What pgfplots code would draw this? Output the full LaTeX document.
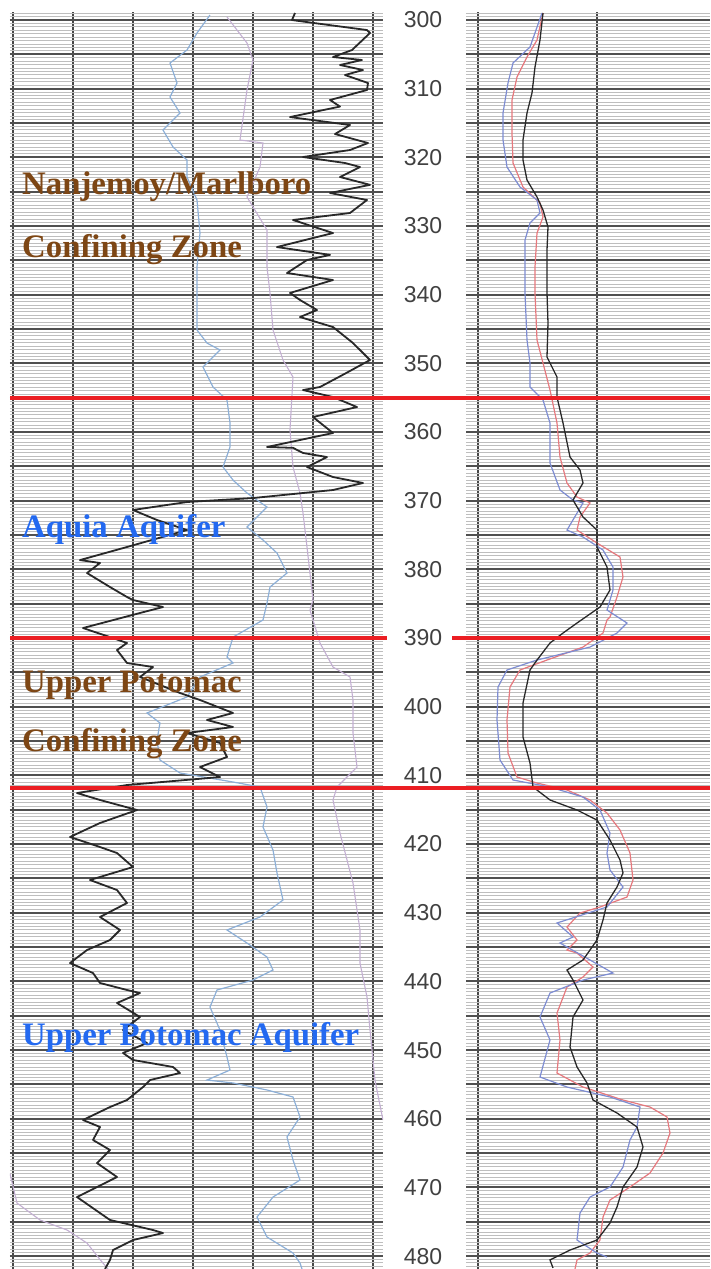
\documentclass[border=0pt]{standalone}
\usepackage{pgfplots}
\pgfplotsset{compat=1.18}
\usepackage{fontspec}
\setmainfont{Liberation Serif}
\newfontfamily\depthfont{Liberation Sans}
\definecolor{brownlab}{RGB}{125,70,20}
\definecolor{bluelab}{RGB}{35,105,240}
\definecolor{redline}{RGB}{235,30,35}
\definecolor{gmaj}{RGB}{80,80,80}
\definecolor{gvert}{RGB}{70,70,70}
\definecolor{gmin}{RGB}{190,190,190}
\definecolor{lblue}{RGB}{140,175,215}
\definecolor{llav}{RGB}{195,175,210}
\definecolor{rred}{RGB}{230,120,125}
\definecolor{rblue}{RGB}{125,140,210}
\definecolor{cblack}{RGB}{40,40,40}
\definecolor{depthgray}{RGB}{65,65,65}
\pgfplotsset{track/.style={
  scale only axis, height=1257pt, ymin=298.835, ymax=481.88, y dir=reverse,
  axis line style={draw=none}, tick style={draw=none},
  xticklabels={}, yticklabels={},
  ytick={300,305,...,480}, minor ytick={299,299.5,...,481.5},
  grid=both,
  major x grid style={gvert, line width=1.3pt},
  major y grid style={gmaj, line width=1.9pt},
  minor y grid style={gmin, line width=1pt},
  clip=true,
}}
\begin{document}
\begin{tikzpicture}
\useasboundingbox (0,0) rectangle (710pt,1269pt);
% ---------------- left track ----------------
\begin{axis}[track, at={(10pt,0pt)}, anchor=south west, width=373pt,
  xmin=10, xmax=383, xtick={13,73,133,193,253,313,373}]
% lavender curve
\addplot[llav, line width=1.1pt] table {
x d
227 299.56
247 303.35
253 305.82
247 310.19
240 317.47
263 317.91
260 321.41
247 325.77
267 330.58
267 335.97
270 339.75
273 345.14
283 349.51
293 351.99
290 359.70
293 365.09
300 368.88
303 371.79
307 376.74
313 384.46
310 385.92
320 390.72
333 394.22
350 395.67
353 399.02
353 403.83
357 408.78
337 411.69
333 413.58
340 418.39
353 425.67
360 432.51
360 437.32
367 442.27
370 447.08
375 454.40
383 460.20
};
\addplot[llav, line width=1.1pt] table {
x d
10 468.00
17 472.27
40 474.74
67 476.20
87 478.10
100 480.50
108 481.88
};
% light blue curve
\addplot[lblue, line width=1.2pt] table {
x d
210 299.27
197 301.89
187 304.37
170 306.26
177 309.17
170 311.21
180 313.54
163 316.02
173 318.49
187 320.39
187 322.86
197 326.21
200 331.02
197 335.97
197 339.75
197 345.14
207 347.04
220 348.05
203 350.53
213 353.44
227 355.34
230 358.68
230 362.18
223 365.09
233 366.99
247 368.88
267 370.92
247 373.83
263 375.72
277 377.62
287 380.53
270 382.57
267 384.90
263 387.37
233 389.86
227 392.76
233 393.63
200 395.67
187 398.58
147 400.91
160 402.37
157 404.85
160 407.76
180 409.65
233 410.96
260 411.69
267 414.60
263 417.52
273 420.87
277 424.21
283 428.15
260 430.62
227 432.51
247 434.41
267 436.45
273 438.34
253 439.80
217 441.25
210 443.73
220 447.08
227 451.01
230 452.90
207 454.36
233 454.79
267 455.81
293 456.83
300 459.74
287 462.65
293 466.01
300 468.92
273 471.40
257 474.31
267 477.22
293 479.55
300 481.01
302 481.88
};
% black curve
\addplot[cblack, line width=1.8pt, line join=round] table {
x d
295 298.98
292 300.00
312 300.40
367 301.46
370 301.89
352 304.37
333 305.39
362 305.82
340 306.55
363 307.28
345 308.01
368 309.17
367 310.19
330 311.65
340 312.60
290 314.13
350 315.29
335 316.60
368 317.91
350 318.93
303 319.95
345 320.82
360 321.41
340 322.86
370 324.00
330 325.19
367 326.21
350 328.10
293 329.12
333 331.02
277 333.06
330 334.20
307 334.95
287 336.84
333 337.86
290 339.75
300 340.77
317 342.23
300 343.25
333 344.71
353 347.04
367 349.07
370 349.51
345 351.50
320 353.44
303 353.88
333 354.90
357 356.36
313 357.81
333 360.14
267 362.18
293 362.30
303 363.05
327 363.64
307 365.09
333 366.55
363 367.42
333 368.44
253 369.61
187 370.19
133 371.35
157 372.81
187 374.27
127 376.74
80 378.64
100 379.07
87 380.53
110 382.57
127 384.02
133 384.46
163 385.48
140 386.35
83 388.54
110 389.86
127 390.72
117 391.74
127 393.63
153 394.22
140 395.67
180 398.00
200 399.02
233 400.91
207 401.93
233 402.95
187 403.83
220 405.28
227 407.32
200 408.78
220 410.24
127 411.40
77 412.57
100 413.58
137 415.04
100 416.93
70 418.97
100 420.43
117 421.30
133 423.34
90 425.23
117 426.69
127 428.58
100 430.62
120 432.51
110 433.97
87 435.43
70 437.32
93 438.78
100 440.23
127 441.25
140 441.69
117 443.14
140 445.18
123 447.08
147 448.97
123 450.42
133 451.44
173 452.46
180 453.34
150 454.36
143 455.38
127 457.27
110 458.29
83 460.18
100 461.20
93 463.09
110 464.55
97 466.45
117 468.48
77 471.40
100 473.73
110 474.74
153 476.20
163 476.64
133 477.66
113 479.12
110 480.56
105 481.88
};
\end{axis}
% ---------------- right track ----------------
\begin{axis}[track, at={(466pt,0pt)}, anchor=south west, width=244pt,
  xmin=466, xmax=710, xtick={478,597}]
\addplot[rred, line width=1.2pt] table {
x d
543 298.98
537 302.91
527 305.39
517 308.30
512 311.65
512 316.46
513 320.82
523 324.32
540 326.65
543 328.69
537 331.02
535 335.97
535 339.75
537 346.60
543 349.95
550 353.88
557 358.68
560 363.64
567 367.42
577 369.46
590 370.33
580 372.37
577 374.27
597 376.16
620 378.20
623 381.11
617 384.02
610 386.94
607 387.37
603 389.27
583 391.31
547 393.20
520 394.65
510 397.13
507 401.93
508 406.74
517 410.24
537 411.11
567 412.13
590 413.58
607 415.48
620 417.95
630 421.30
633 425.23
627 427.71
600 429.16
580 430.04
567 432.08
577 433.97
567 435.43
577 435.87
593 437.90
583 439.36
567 440.82
557 444.60
560 448.53
557 453.34
583 455.38
623 457.27
650 458.29
667 459.74
670 462.07
663 464.99
650 467.90
630 469.94
610 471.83
603 474.31
600 477.66
590 479.55
577 480.56
575 481.88
};
\addplot[rblue, line width=1.2pt] table {
x d
542 298.98
530 303.93
513 306.26
508 309.17
503 313.54
503 317.47
507 321.41
520 324.32
537 326.21
540 328.10
530 329.56
525 332.04
525 339.75
527 346.60
530 349.95
530 353.44
543 355.34
550 358.68
550 364.51
560 368.44
573 369.90
583 370.33
567 374.27
583 375.29
603 377.18
613 379.66
613 383.00
607 385.92
627 387.81
617 389.27
590 391.31
537 393.20
507 394.65
498 397.13
497 401.93
500 407.76
513 410.67
550 411.69
583 413.15
600 415.04
610 418.39
607 421.30
610 423.78
623 426.25
607 429.16
557 431.49
573 433.53
560 434.41
590 436.88
613 438.78
583 439.80
550 441.69
540 445.18
550 448.53
540 453.92
567 455.38
610 456.83
640 458.29
637 461.20
630 463.09
623 467.03
610 469.94
590 471.40
580 473.73
577 477.66
597 479.55
607 480.13
};
\addplot[cblack, line width=1.3pt] table {
x d
543 298.98
540 302.91
535 306.84
532 310.63
527 313.54
523 317.47
523 320.39
527 323.30
537 325.77
543 327.67
548 330.14
547 333.49
547 339.75
548 344.12
547 349.07
557 351.99
557 354.90
563 358.68
570 363.64
580 365.53
583 367.42
573 369.90
583 372.37
597 374.27
597 376.74
607 379.66
610 383.00
600 385.48
577 387.81
563 389.27
550 390.72
537 393.20
530 394.65
523 399.46
523 404.41
530 408.20
533 411.69
550 413.58
577 415.04
597 416.50
610 419.41
620 422.32
623 424.21
617 426.25
607 428.58
603 431.06
597 433.97
583 436.88
567 438.34
573 439.80
583 442.71
573 445.18
570 449.55
577 452.46
587 454.79
593 457.27
617 459.16
637 461.20
643 464.11
637 467.03
623 469.94
617 472.85
610 475.18
597 477.66
570 479.12
550 480.56
553 481.73
};
\end{axis}
% ---------------- overlay: formation tops, labels, depths ----------------
\begin{axis}[scale only axis, at={(0pt,0pt)}, anchor=south west,
  width=710pt, height=1257pt, xmin=0, xmax=710,
  ymin=298.835, ymax=481.88, y dir=reverse, hide axis, clip=false]
\addplot[redline, line width=3.8pt] coordinates {(10,355) (710,355)};
\addplot[redline, line width=3.8pt] coordinates {(10,390) (387,390)};
\addplot[redline, line width=3.8pt] coordinates {(452,390) (710,390)};
\addplot[redline, line width=3.8pt] coordinates {(10,411.8) (710,411.8)};
\pgfplotsinvokeforeach{300,310,...,480}{
  \node[font=\depthfont\fontsize{23}{25}\selectfont, text=depthgray, inner sep=0pt]
    at (axis cs:423,#1) {#1};
}
\tikzset{lab/.style={anchor=base west, inner sep=0pt,
  font=\fontsize{32.8}{36}\selectfont\bfseries}}
\node[lab, text=brownlab] at (axis cs:22,325.48) {Nanjemoy/Marlboro};
\node[lab, text=brownlab] at (axis cs:22,334.51) {Confining Zone};
\node[lab, text=bluelab] at (axis cs:22,375.29) {Aquia Aquifer};
\node[lab, text=brownlab] at (axis cs:22,397.86) {Upper Potomac};
\node[lab, text=brownlab] at (axis cs:22,406.59) {Confining Zone};
\node[lab, text=bluelab] at (axis cs:22,449.26) {Upper Potomac Aquifer};
\end{axis}
\end{tikzpicture}
\end{document}
